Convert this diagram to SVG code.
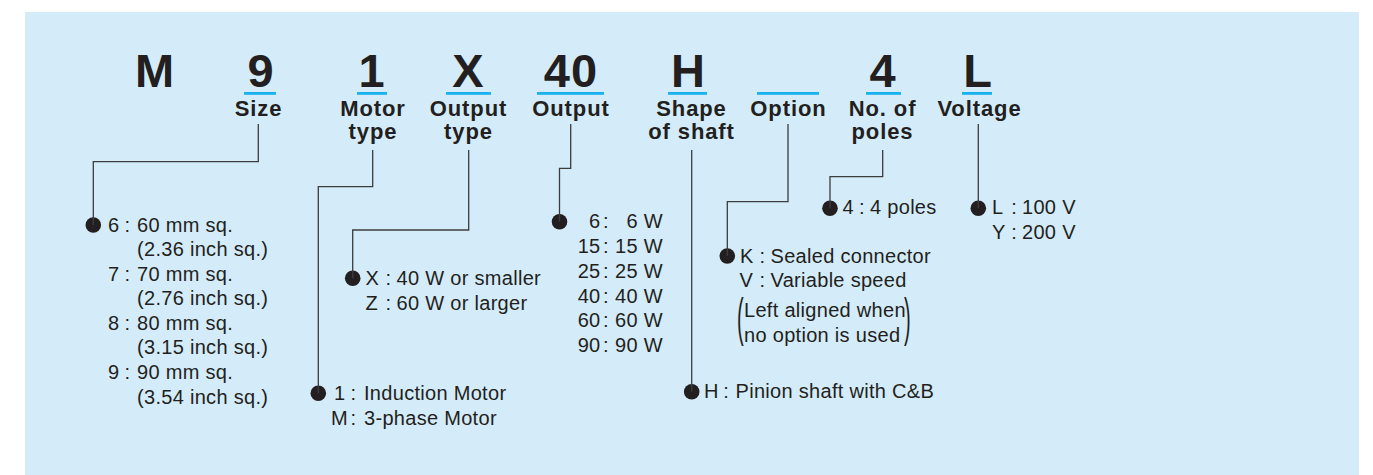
<svg xmlns="http://www.w3.org/2000/svg" width="1373" height="475" viewBox="0 0 1373 475">
<style>
.big{font-family:"Liberation Sans",Arial,sans-serif;font-weight:bold;font-size:47px;fill:#231f20;text-anchor:middle;letter-spacing:1px}
.lbl{font-family:"Liberation Sans",Arial,sans-serif;font-weight:bold;font-size:22px;fill:#231f20;text-anchor:middle;letter-spacing:0.9px}
.t{font-family:"Liberation Sans",Arial,sans-serif;font-size:20px;fill:#231f20;letter-spacing:0.3px}
.e{text-anchor:end}
.ul{fill:#19b2ec}
.ln{fill:none;stroke:#3c3c3c;stroke-width:1.3}
.dot{fill:#231f20}
</style>
<rect x="25" y="12" width="1334" height="463" fill="#d4ecfa"/>
<g id="prefix"><text class="big" x="155" y="87">M</text></g>
<g id="size">
<text class="big" x="261" y="87">9</text><rect class="ul" x="244" y="92" width="32" height="2.8"/>
<text class="lbl" x="258.5" y="115.5">Size</text>
<circle class="dot" cx="93.3" cy="225" r="7.8"/>
<text class="t" y="231.5"><tspan x="108">6</tspan><tspan x="124.5">:</tspan><tspan x="137">60 mm sq.</tspan></text>
<text class="t" x="137" y="256">(2.36 inch sq.)</text>
<text class="t" y="280.6"><tspan x="108">7</tspan><tspan x="124.5">:</tspan><tspan x="137">70 mm sq.</tspan></text>
<text class="t" x="137" y="305.2">(2.76 inch sq.)</text>
<text class="t" y="329.8"><tspan x="108">8</tspan><tspan x="124.5">:</tspan><tspan x="137">80 mm sq.</tspan></text>
<text class="t" x="137" y="354.4">(3.15 inch sq.)</text>
<text class="t" y="379"><tspan x="108">9</tspan><tspan x="124.5">:</tspan><tspan x="137">90 mm sq.</tspan></text>
<text class="t" x="137" y="403.6">(3.54 inch sq.)</text>
</g>
<g id="motor-type">
<text class="big" x="372" y="87">1</text><rect class="ul" x="357" y="92" width="30" height="2.8"/>
<text class="lbl" x="373" y="115.5">Motor</text><text class="lbl" x="373" y="138.5">type</text>
<circle class="dot" cx="318.3" cy="393.3" r="7.8"/>
<text class="t" y="400"><tspan x="334">1</tspan><tspan x="350.5">:</tspan><tspan x="364">Induction Motor</tspan></text>
<text class="t" y="425"><tspan x="331">M</tspan><tspan x="350.5">:</tspan><tspan x="364">3-phase Motor</tspan></text>
</g>
<g id="output-type">
<text class="big" x="468.5" y="87">X</text><rect class="ul" x="446" y="92" width="45" height="2.8"/>
<text class="lbl" x="468.5" y="115.5">Output</text><text class="lbl" x="468.5" y="138.5">type</text>
<circle class="dot" cx="352.7" cy="278.3" r="7.8"/>
<text class="t" y="285"><tspan x="365.5">X</tspan><tspan x="385.5">:</tspan><tspan x="396.5">40 W or smaller</tspan></text>
<text class="t" y="309.6"><tspan x="365.5">Z</tspan><tspan x="385.5">:</tspan><tspan x="396.5">60 W or larger</tspan></text>
</g>
<g id="output">
<text class="big" x="571" y="87">40</text><rect class="ul" x="537" y="92" width="67" height="2.8"/>
<text class="lbl" x="571" y="115.5">Output</text>
<circle class="dot" cx="559.5" cy="221.7" r="7.8"/>
<text class="t" y="228.3"><tspan class="e" x="600.5">6</tspan><tspan x="603">:</tspan><tspan class="e" x="663">6 W</tspan></text>
<text class="t" y="253"><tspan class="e" x="600.5">15</tspan><tspan x="603">:</tspan><tspan class="e" x="663">15 W</tspan></text>
<text class="t" y="277.8"><tspan class="e" x="600.5">25</tspan><tspan x="603">:</tspan><tspan class="e" x="663">25 W</tspan></text>
<text class="t" y="302.6"><tspan class="e" x="600.5">40</tspan><tspan x="603">:</tspan><tspan class="e" x="663">40 W</tspan></text>
<text class="t" y="327.4"><tspan class="e" x="600.5">60</tspan><tspan x="603">:</tspan><tspan class="e" x="663">60 W</tspan></text>
<text class="t" y="352.2"><tspan class="e" x="600.5">90</tspan><tspan x="603">:</tspan><tspan class="e" x="663">90 W</tspan></text>
</g>
<g id="shape-of-shaft">
<text class="big" x="688.5" y="87">H</text><rect class="ul" x="668" y="92" width="39" height="2.8"/>
<text class="lbl" x="691.5" y="115.5">Shape</text><text class="lbl" x="691.5" y="138.5">of shaft</text>
<circle class="dot" cx="691.7" cy="391.7" r="7.8"/>
<text class="t" y="398.3"><tspan x="704">H</tspan><tspan x="723.3">:</tspan><tspan x="735.5">Pinion shaft with C&amp;B</tspan></text>
</g>
<g id="option">
<rect class="ul" x="757" y="92" width="62" height="2.8"/>
<text class="lbl" x="788.5" y="115.5">Option</text>
<circle class="dot" cx="727.3" cy="256" r="7.8"/>
<text class="t" y="262.7"><tspan x="740">K</tspan><tspan x="759.5">:</tspan><tspan x="770.5">Sealed connector</tspan></text>
<text class="t" y="287.3"><tspan x="739.5">V</tspan><tspan x="759.5">:</tspan><tspan x="770.5">Variable speed</tspan></text>
<text class="t" transform="translate(737 334.7) scale(1 2.6)" x="0" y="0">(</text>
<text class="t" x="744" y="316.7">Left aligned when</text>
<text class="t" x="744" y="341.7">no option is used</text>
<text class="t" transform="translate(904 334.7) scale(1 2.6)" x="0" y="0">)</text>
</g>
<g id="poles">
<text class="big" x="883" y="87">4</text><rect class="ul" x="866" y="92" width="35" height="2.8"/>
<text class="lbl" x="882.5" y="115.5">No. of</text><text class="lbl" x="882.5" y="138.5">poles</text>
<circle class="dot" cx="830" cy="208.3" r="7.8"/>
<text class="t" y="214"><tspan x="842.5">4</tspan><tspan x="859">:</tspan><tspan x="870">4 poles</tspan></text>
</g>
<g id="voltage">
<text class="big" x="978" y="87">L</text><rect class="ul" x="962" y="92" width="30" height="2.8"/>
<text class="lbl" x="979.5" y="115.5">Voltage</text>
<circle class="dot" cx="978.3" cy="208.3" r="7.8"/>
<text class="t" y="214.3"><tspan x="992">L</tspan><tspan x="1011.2">:</tspan><tspan x="1022">100 V</tspan></text>
<text class="t" y="239.3"><tspan x="992">Y</tspan><tspan x="1011.2">:</tspan><tspan x="1022">200 V</tspan></text>
</g>
<g id="connectors">
<path class="ln" d="M258.3 124 V161.7 H93.3 V225"/>
<path class="ln" d="M372.7 150 V186.7 H318.3 V393.3"/>
<path class="ln" d="M468.7 150 V230 H352.7 V278.3"/>
<path class="ln" d="M570.7 124 V168.3 H559.5 V221.7"/>
<path class="ln" d="M691.7 150 V391.7"/>
<path class="ln" d="M788 124 V201.7 H727.3 V256"/>
<path class="ln" d="M882.7 150 V176.7 H830 V208.3"/>
<path class="ln" d="M978.3 124 V208.3"/>
</g>
</svg>
